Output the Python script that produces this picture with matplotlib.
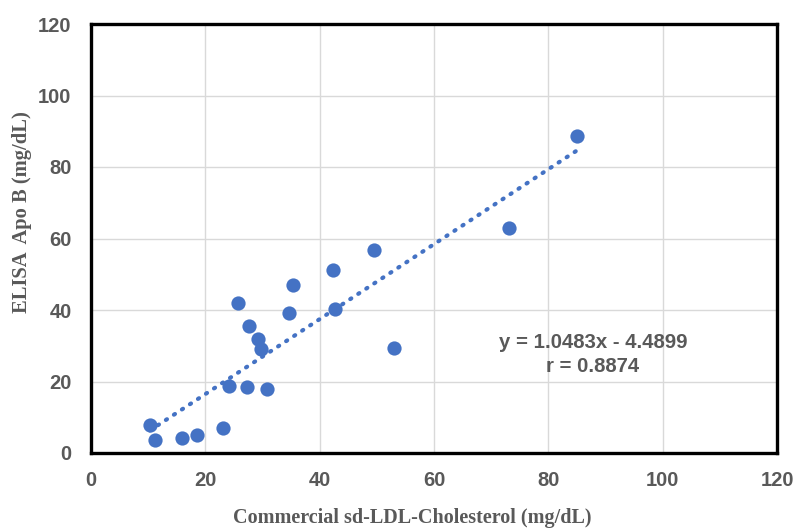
import matplotlib
matplotlib.use("Agg")
import matplotlib.pyplot as plt
import numpy as np

# Data
commercial_sdldl = [10.3, 11.2, 16.0, 18.5, 23.1, 24.2, 27.3, 30.7, 25.7, 27.7, 29.2, 29.7,
                    34.7, 35.4, 42.4, 42.6, 49.5, 53.0, 73.2, 85.0]
elisa_apob = [7.8, 3.6, 4.2, 5.0, 6.9, 18.8, 18.5, 18.0, 42.0, 35.5, 31.8, 29.0,
              39.3, 47.0, 51.2, 40.2, 56.8, 29.5, 62.8, 88.7]
slope = 1.0483
intercept = -4.4899
r_value = 0.8874

xticks = [0, 20, 40, 60, 80, 100, 120]
yticks = [0, 20, 40, 60, 80, 100, 120]

blue = "#4472C4"
gray = "#595959"

fig = plt.figure(figsize=(7.94, 5.29), dpi=100)
ax = fig.add_axes([91/794, 76/529, 686/794, 429/529])

ax.set_xlim(0, 120)
ax.set_ylim(0, 120)
ax.set_xticks(xticks)
ax.set_yticks(yticks)
ax.grid(True, color="#D9D9D9", linewidth=1.0)
ax.set_axisbelow(True)

for s in ax.spines.values():
    s.set_color("black")
    s.set_linewidth(2.4)

ax.tick_params(axis="y", length=0, pad=14, labelsize=14.5, labelcolor=gray)
ax.tick_params(axis="x", length=0, pad=13, labelsize=14.5, labelcolor=gray)
for lab in ax.get_xticklabels() + ax.get_yticklabels():
    lab.set_fontfamily("Liberation Sans")
    lab.set_fontweight("bold")

# trendline
xs = np.array([min(commercial_sdldl), max(commercial_sdldl)])
ax.plot(xs, slope * xs + intercept, linestyle=(0, (0.3, 2.0)), color=blue,
        linewidth=3.0, dash_capstyle="round", zorder=2)

ax.scatter(commercial_sdldl, elisa_apob, s=105, color=blue, zorder=3, linewidths=0)

ax.text((593-91)/686*120, (453-343)/429*120, f"y = {slope:.4f}x - {abs(intercept):.4f}",
        ha="center", va="center", fontsize=14.7, fontweight="bold", color=gray,
        family="Liberation Sans")
ax.text((593-91)/686*120, (453-367)/429*120, f"r = {r_value:.4f}", ha="center", va="center",
        fontsize=14.7, fontweight="bold", color=gray, family="Liberation Sans")

fig.text(412/794, 1 - 518/529, "Commercial sd-LDL-Cholesterol (mg/dL)", ha="center", va="center",
         fontsize=14.5, fontweight="bold", color=gray, family="Liberation Serif")
fig.text(22/794, 1 - 212/529, "ELISA  Apo B (mg/dL)", ha="center", va="center", rotation=90,
         fontsize=14.8, fontweight="bold", color=gray, family="Liberation Serif")

fig.savefig("out.png", dpi=100)
